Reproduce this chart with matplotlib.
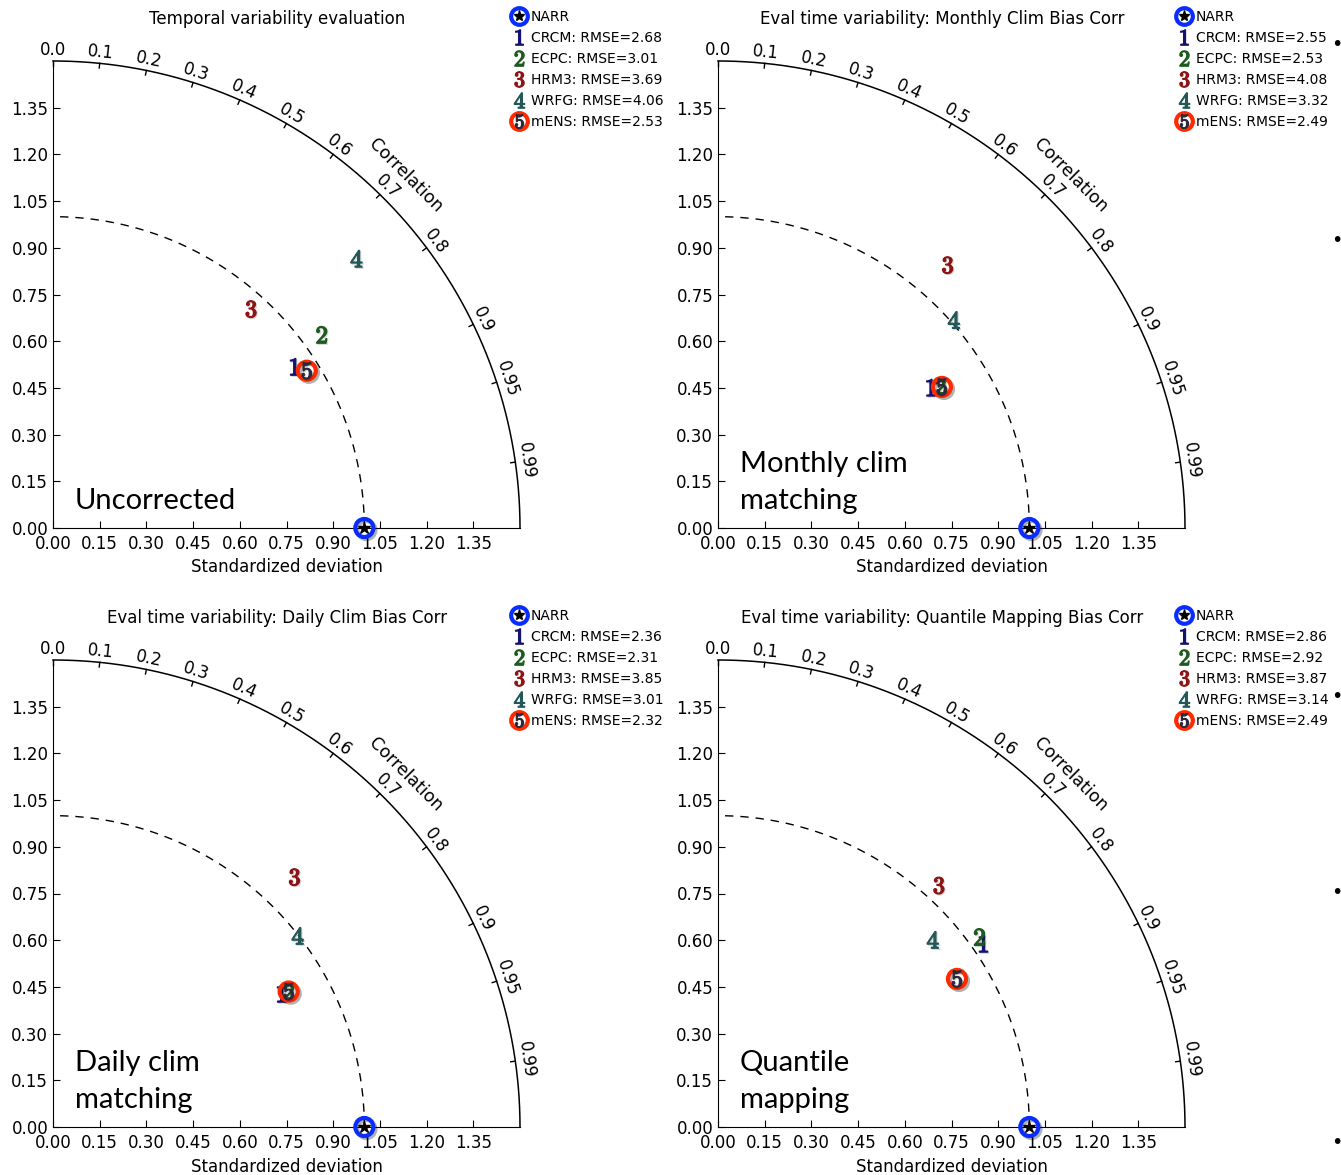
import numpy as np
import matplotlib
matplotlib.use('Agg')
import matplotlib.pyplot as plt
import matplotlib.patheffects as pe
from matplotlib.lines import Line2D

plt.rcParams['mathtext.fontset'] = 'cm'

titles = ['Temporal variability evaluation',
          'Eval time variability: Monthly Clim Bias Corr',
          'Eval time variability: Daily Clim Bias Corr',
          'Eval time variability: Quantile Mapping Bias Corr']
notes = ['Uncorrected', 'Monthly clim\nmatching', 'Daily clim\nmatching', 'Quantile\nmapping']
models = ['CRCM', 'ECPC', 'HRM3', 'WRFG', 'mENS']
ref_name = 'NARR'
ref_std = 1.0

# normalised std dev and correlation of each model vs NARR
std_uncorr = [0.933, 1.063, 0.948, 1.303, 0.959]
corr_uncorr = [0.832, 0.812, 0.671, 0.748, 0.850]
rmse_uncorr = [2.68, 3.01, 3.69, 4.06, 2.53]

std_monthly = [0.819, 0.846, 1.121, 1.010, 0.850]
corr_monthly = [0.835, 0.843, 0.658, 0.750, 0.846]
rmse_monthly = [2.55, 2.53, 4.08, 3.32, 2.49]

std_daily = [0.850, 0.873, 1.116, 0.997, 0.873]
corr_daily = [0.864, 0.867, 0.695, 0.788, 0.867]
rmse_daily = [2.36, 2.31, 3.85, 3.01, 2.32]

std_qmap = [1.036, 1.038, 1.051, 0.915, 0.903]
corr_qmap = [0.823, 0.809, 0.675, 0.754, 0.850]
rmse_qmap = [2.86, 2.92, 3.87, 3.14, 2.49]

corr_ticks = [0.0, 0.1, 0.2, 0.3, 0.4, 0.5, 0.6, 0.7, 0.8, 0.9, 0.95, 0.99]
sd_ticks = [0.0, 0.15, 0.30, 0.45, 0.60, 0.75, 0.90, 1.05, 1.20, 1.35]

colors = ['#14146e', '#1d5a1d', '#8c1414', '#245858', '#2a2a3a']
ring_red = '#ff2a00'
ring_blue = '#0a2dff'

ring_shadow = [pe.SimpleLineShadow(offset=(1.5, -1.5), alpha=0.3), pe.Normal()]
digit_shadow = [pe.SimpleLineShadow(offset=(0.8, -0.8), alpha=0.15), pe.Normal()]


def taylor(ax, stds, corrs, rmses, title, note):
    smax = 1.5
    ax.set_xlim(0, smax)
    ax.set_ylim(0, smax)
    ax.set_aspect('equal')
    ax.spines['top'].set_visible(False)
    ax.spines['right'].set_visible(False)
    ax.set_xticks(sd_ticks)
    ax.set_yticks(sd_ticks)
    ax.xaxis.set_major_formatter('{x:.2f}')
    ax.yaxis.set_major_formatter('{x:.2f}')
    ax.tick_params(direction='in', labelsize=12, length=5)
    ax.tick_params(axis='x', pad=5)

    th = np.linspace(0, np.pi / 2, 300)
    ax.plot(smax * np.cos(th), smax * np.sin(th), 'k-', lw=1.1, clip_on=False)
    ax.plot(ref_std * np.cos(th), ref_std * np.sin(th), 'k--', lw=1.0, dashes=(6, 5))

    for c in corr_ticks:
        t = np.arccos(c)
        ax.plot([1.485 * np.cos(t), smax * np.cos(t)], [1.485 * np.sin(t), smax * np.sin(t)],
                'k-', lw=1, clip_on=False)
        ax.text(1.535 * np.cos(t), 1.535 * np.sin(t), str(c), rotation=np.degrees(t) - 90,
                ha='center', va='center', rotation_mode='anchor', fontsize=12)
    ax.text(1.60 * np.cos(np.pi / 4), 1.60 * np.sin(np.pi / 4), 'Correlation', rotation=-45,
            ha='center', va='center', rotation_mode='anchor', fontsize=12.5)

    ax.set_xlabel('Standardized deviation', fontsize=12, labelpad=4)
    ax.text(0.48, 1.09, title, transform=ax.transAxes, ha='center', va='center', fontsize=12)

    stds = np.array(stds)
    corrs = np.array(corrs)
    xs = stds * corrs
    ys = stds * np.sin(np.arccos(corrs))

    # reference point
    ax.plot(ref_std, 0, 'o', ms=13, mfc='none', mec=ring_blue, mew=3, clip_on=False,
            zorder=5, path_effects=ring_shadow)
    ax.plot(ref_std, 0, '*', ms=9, color='k', clip_on=False, zorder=6)

    handles = [(Line2D([], [], ls='', marker='o', ms=12, mfc='none', mec=ring_blue, mew=3),
                Line2D([], [], ls='', marker='*', ms=8, color='k'))]
    labels = [ref_name]
    for i in range(len(models)):
        m = '$%d$' % (i + 1)
        if i == len(models) - 1:
            ax.plot(xs[i], ys[i], 'o', ms=13, mfc='none', mec=ring_red, mew=3,
                    zorder=4, path_effects=ring_shadow)
            handles.append((Line2D([], [], ls='', marker='o', ms=12, mfc='none', mec=ring_red, mew=3),
                            Line2D([], [], ls='', marker=m, ms=10, color=colors[i])))
        else:
            handles.append(Line2D([], [], ls='', marker=m, ms=11, color=colors[i]))
        ax.plot(xs[i], ys[i], ls='', marker=m, ms=12, color=colors[i], zorder=4,
                path_effects=digit_shadow)
        labels.append('%s: RMSE=%.2f' % (models[i], rmses[i]))

    ax.legend(handles, labels, loc='upper left', bbox_to_anchor=(0.983, 1.109), frameon=False,
              borderpad=0, borderaxespad=0, handlelength=1.0, handletextpad=0.35,
              labelspacing=0.5, fontsize=10)

    ax.text(0.047, 0.03, note, transform=ax.transAxes, ha='left', va='bottom',
            fontsize=21, family='Lato', linespacing=1.5)


fig = plt.figure(figsize=(13.41, 11.75), dpi=100)
w = 467 / 1341
h = 467 / 1175
lefts = [53 / 1341, 718 / 1341, 53 / 1341, 718 / 1341]
bottoms = [(1175 - 528) / 1175, (1175 - 528) / 1175, (1175 - 1127) / 1175, (1175 - 1127) / 1175]

all_std = [std_uncorr, std_monthly, std_daily, std_qmap]
all_corr = [corr_uncorr, corr_monthly, corr_daily, corr_qmap]
all_rmse = [rmse_uncorr, rmse_monthly, rmse_daily, rmse_qmap]

for k in range(4):
    ax = fig.add_axes([lefts[k], bottoms[k], w, h])
    taylor(ax, all_std[k], all_corr[k], all_rmse[k], titles[k], notes[k])

# slide bullets peeking in at the right edge
for yb in [45, 240, 697, 893, 1143]:
    fig.text(1337 / 1341, 1 - yb / 1175, '\u2022', fontsize=14, ha='center', va='center')

fig.savefig('out.png', dpi=100)
